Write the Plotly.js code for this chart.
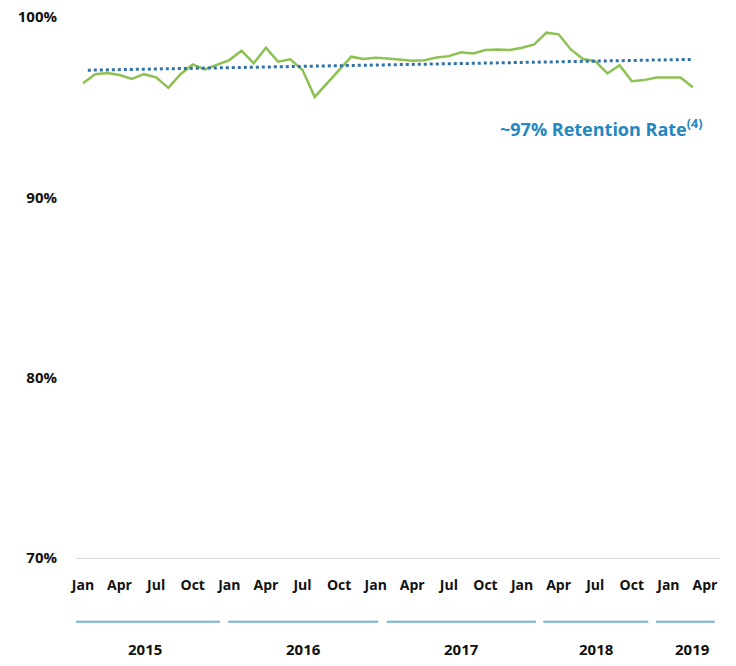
<!DOCTYPE html>
<html>
<head>
<meta charset="utf-8">
<script src="https://cdn.plot.ly/plotly-3.0.1.min.js"></script>
<style>html,body{margin:0;padding:0;background:#fff;}#chart{width:736px;height:666px;}</style>
</head>
<body>
<div id="chart"></div>
<script>
// Monthly retention rate, Jan 2015 onward (percent)
var retention = [
  96.32, 96.83, 96.90, 96.78, 96.56, 96.83, 96.65, 96.07, 96.83, 97.37, 97.09, 97.33,
  97.61, 98.13, 97.43, 98.30, 97.52, 97.65, 97.06, 95.57, 96.30, 97.05, 97.80, 97.67,
  97.74, 97.70, 97.65, 97.58, 97.60, 97.75, 97.83, 98.04, 97.98, 98.17, 98.20, 98.17,
  98.30, 98.48, 99.13, 99.04, 98.20, 97.67, 97.55, 96.87, 97.33, 96.44, 96.50, 96.65,
  96.65, 96.65, 96.10
];
// Trend line endpoints (percent) at first and last month
var trendValues = [97.05, 97.65];
var tickLabels = ['Jan','Apr','Jul','Oct','Jan','Apr','Jul','Oct','Jan','Apr','Jul','Oct','Jan','Apr','Jul','Oct','Jan','Apr'];
var yTickVals = [70, 80, 90, 100];
var yTickText = ['70%', '80%', '90%', '100%'];
var years = ['2015', '2016', '2017', '2018', '2019'];
var annotationText = '~97% Retention Rate<sup>(4)</sup>';

// layout helpers (month-index positions of year bars and labels)
var yearBarStart = [-0.93, 11.91, 24.9, 37.74, 46.99];
var yearBarEnd   = [11.24, 24.21, 37.14, 46.35, 51.8];
var yearLabelPos = [5.08, 18.06, 31.05, 42.12, 50.0];

var monthIdx = retention.map(function(_, i){ return i; });
var tickVals = tickLabels.map(function(_, i){ return i * 3; });

var FONT = "'Open Sans', 'DejaVu Sans', sans-serif";

var traces = [
  {
    x: monthIdx, y: retention, type: 'scatter', mode: 'lines',
    line: {color: '#8dc152', width: 2.5},
    hoverinfo: 'skip', showlegend: false
  },
  {
    x: [0.4, monthIdx[monthIdx.length - 1]], y: trendValues, type: 'scatter', mode: 'lines',
    line: {color: '#2f72a8', width: 3, dash: 'dot'},
    hoverinfo: 'skip', showlegend: false
  }
];

var shapes = [];
var annotations = [];
years.forEach(function(yr, i){
  shapes.push({
    type: 'line', xref: 'x', yref: 'paper',
    x0: yearBarStart[i], x1: yearBarEnd[i], y0: -0.118, y1: -0.118,
    line: {color: '#6fb4d8', width: 2}
  });
  annotations.push({
    text: '<b>' + yr + '</b>', xref: 'x', yref: 'paper',
    x: yearLabelPos[i], y: -0.168, showarrow: false,
    xanchor: 'center', yanchor: 'middle',
    font: {family: FONT, size: 15, color: '#111'}
  });
});
annotations.push({
  text: '<b>' + annotationText + '</b>', xref: 'x', yref: 'y',
  x: 50.9, y: 93.83, showarrow: false, xanchor: 'right', yanchor: 'middle',
  font: {family: FONT, size: 18, color: '#2288c2'}
});

var layout = {
  width: 736, height: 666,
  margin: {l: 76, r: 16, t: 17, b: 108},
  paper_bgcolor: '#fff', plot_bgcolor: '#fff',
  xaxis: {
    range: [-0.57, 52.23], tickmode: 'array', tickvals: tickVals, ticktext: tickLabels,
    showgrid: false, zeroline: false, showline: true, linecolor: '#d9d9d9', linewidth: 1,
    ticks: '', ticklabelstandoff: 14,
    tickfont: {family: FONT, size: 14, color: '#111', weight: 'bold'}
  },
  yaxis: {
    range: [70, 100], tickmode: 'array', tickvals: yTickVals, ticktext: yTickText,
    showgrid: false, zeroline: false, showline: false, ticks: '', ticklabelstandoff: 18,
    tickfont: {family: FONT, size: 15, color: '#111', weight: 'bold'}
  },
  shapes: shapes,
  annotations: annotations,
  showlegend: false
};

Plotly.newPlot('chart', traces, layout, {displayModeBar: false, staticPlot: true});
</script>
</body>
</html>
